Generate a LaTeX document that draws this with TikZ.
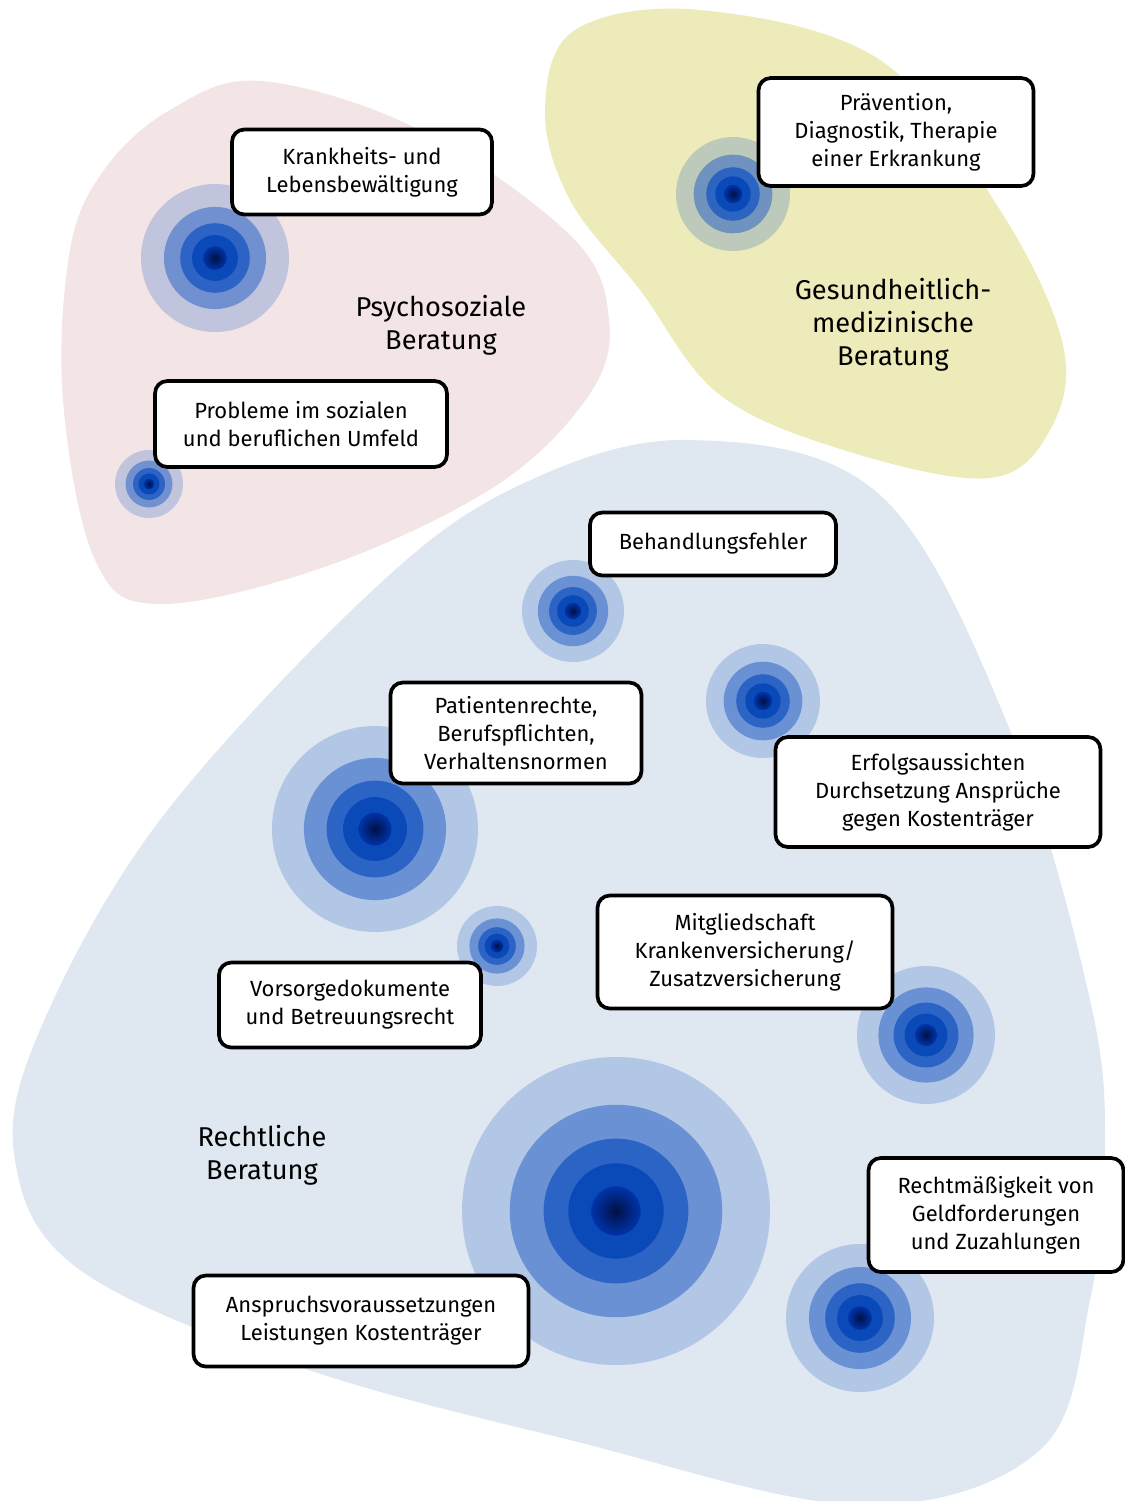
\documentclass[tikz,border=0pt]{standalone}
\usepackage{fontspec}
\setmainfont{Fira Sans}
\usetikzlibrary{positioning}

\definecolor{pinkbg}{RGB}{243,228,229}
\definecolor{yellowbg}{RGB}{237,235,185}
\definecolor{bluebg}{RGB}{223,231,241}
\definecolor{ringblue}{RGB}{31,91,195}
\definecolor{coreblue}{RGB}{10,74,184}
\definecolor{darkcore}{RGB}{0,16,70}
\definecolor{midcore}{RGB}{0,52,170}

\tikzset{
	tag/.style={draw=black, line width=2.1pt, rounded corners=7pt, fill=white, align=center, inner sep=0pt, font=\fontsize{12.5}{15.9}\selectfont},
	area/.style={align=center, font=\fontsize{15.5}{18.7}\selectfont},
}

%% target: x, y, outer radius (px)
\newcommand{\target}[3]{%
	\fill[ringblue, opacity=0.23] (#1,#2) circle ({#3});
	\fill[ringblue, opacity=0.49] (#1,#2) circle ({0.69*#3});
	\fill[ringblue, opacity=0.83] (#1,#2) circle ({0.47*#3});
	\fill[coreblue] (#1,#2) circle ({0.31*#3});
	\shade[inner color=darkcore, outer color=midcore] (#1,#2) circle ({0.16*#3});
}

\begin{document}
\begin{tikzpicture}[x=0.02cm, y=-0.02cm]
					\useasboundingbox (0,0) rectangle (1125,1501);
					\clip (0,0) rectangle (1125,1501);

					%% areas
					\fill[pinkbg] plot[smooth cycle, tension=0.6] coordinates {(104,170) (170,110) (261,81) (420,130) (572,237) (609,320) (589,395) (497,485) (330,565) (160,604) (95,560) (63,400) (70,250)};
					\fill[yellowbg] plot[smooth cycle, tension=0.6] coordinates {(545,110) (575,30) (700,10) (880,60) (1000,210) (1063,345) (1050,430) (990,478) (850,452) (720,395) (640,290) (570,200)};
					\fill[bluebg] plot[smooth cycle, tension=0.6] coordinates {(690,440) (520,485) (373,590) (160,820) (40,1030) (15,1160) (80,1270) (300,1367) (570,1440) (860,1505) (1040,1450) (1090,1300) (1105,1150) (1090,1000) (1010,730) (880,495)};

					%% targets
					\target{215}{258}{74}
					\target{149}{484}{34}
					\target{733}{194}{57}
					\target{573}{611}{51}
					\target{763}{701}{57}
					\target{375}{829}{103}
					\target{497}{946}{40}
					\target{926}{1035}{69}
					\target{616}{1211}{154}
					\target{860}{1318}{74}

					%% labels
					\node[area] (psycho) at (441,325) {Psychosoziale\\Beratung};
					\node[area] (gesund) at (893,325) {Gesundheitlich-\\medizinische\\Beratung};
					\node[area] (recht) at (262,1155) {Rechtliche\\Beratung};

					\node[tag, minimum width=5.2cm, minimum height=1.7cm] (krank) at (362,172) {Krankheits- und\\Lebensbewältigung};
					\node[tag, minimum width=5.84cm, minimum height=1.72cm] (umfeld) at (301,424) {Probleme im sozialen\\und beruflichen Umfeld};
					\node[tag, minimum width=5.5cm, minimum height=2.16cm] (praev) at (896,132) {Prävention,\\Diagnostik, Therapie\\einer Erkrankung};
					\node[tag, minimum width=4.92cm, minimum height=1.26cm] (fehler) at (713,544) {Behandlungsfehler};
					\node[tag, minimum width=5.02cm, minimum height=2.02cm] (rechte) at (516,733) {Patientenrechte,\\Berufspflichten,\\Verhaltensnormen};
					\node[tag, minimum width=6.5cm, minimum height=2.2cm] (erfolg) at (938,792) {Erfolgsaussichten\\Durchsetzung Ansprüche\\gegen Kostenträger};
					\node[tag, minimum width=5.9cm, minimum height=2.26cm] (mitglied) at (745,952) {Mitgliedschaft\\Krankenversicherung/\\Zusatzversicherung};
					\node[tag, minimum width=5.24cm, minimum height=1.7cm] (vorsorge) at (350,1005) {Vorsorgedokumente\\und Betreuungsrecht};
					\node[tag, minimum width=5.1cm, minimum height=2.28cm] (geld) at (996,1215) {Rechtmäßigkeit von\\Geldforderungen\\und Zuzahlungen};
					\node[tag, minimum width=6.7cm, minimum height=1.82cm] (anspruch) at (361,1321) {Anspruchsvoraussetzungen\\Leistungen Kostenträger};
				\end{tikzpicture}
\end{document}
